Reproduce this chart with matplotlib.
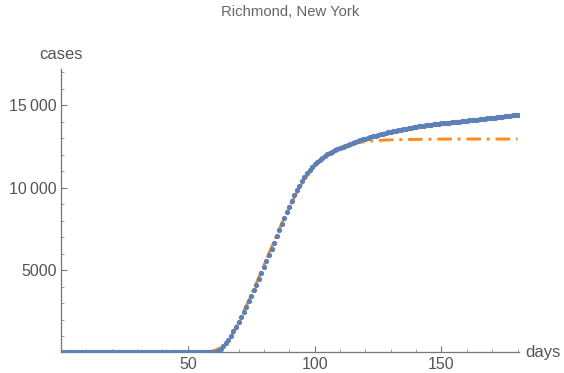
import numpy as np
import matplotlib.pyplot as plt
from matplotlib.ticker import MultipleLocator, FuncFormatter

plt.rcParams['font.family'] = ['Liberation Sans', 'DejaVu Sans']

# daily cumulative cases, day 1..180
days = list(range(1, 181))
cases = [0] * 58 + [
    2, 10, 40, 110, 220, 370, 560, 780, 1020, 1280,            # 59-68
    1560, 1850, 2150, 2460, 2780, 3100, 3430, 3770, 4110, 4460,  # 69-78
    4810, 5170, 5540, 5910, 6290, 6670, 7040, 7410, 7780, 8150,  # 79-88
    8500, 8850, 9200, 9530, 9840, 10130, 10400, 10650, 10880, 11080,  # 89-98
    11260, 11420, 11560, 11690, 11810, 11920, 12020, 12110, 12190, 12260,  # 99-108
    12330, 12400, 12470, 12540, 12600, 12660, 12720, 12780, 12830, 12880,  # 109-118
    12930, 12980, 13030, 13070, 13110, 13150, 13190, 13230, 13270, 13310,  # 119-128
    13350, 13390, 13430, 13460, 13490, 13520, 13550, 13580, 13610, 13640,  # 129-138
    13670, 13700, 13720, 13740, 13770, 13790, 13810, 13830, 13850, 13870,  # 139-148
    13890, 13910, 13920, 13940, 13950, 13970, 13980, 14000, 14010, 14030,  # 149-158
    14040, 14060, 14080, 14090, 14110, 14130, 14140, 14160, 14180, 14200,  # 159-168
    14210, 14230, 14250, 14270, 14290, 14300, 14320, 14340, 14360, 14380,  # 169-178
    14400, 14420,                                                # 179-180
]

# fitted curve
fit_days = [0, 50, 54, 56, 58, 60, 62, 64, 66, 68, 70, 72, 74, 76, 78, 80, 82, 84,
            86, 88, 90, 92, 94, 96, 98, 100, 102, 104, 106, 108, 110, 112, 114,
            116, 118, 120, 124, 128, 135, 145, 160, 180]
fit_cases = [0, 0, 5, 15, 40, 100, 220, 420, 740, 1220, 1820, 2470, 3140, 3840,
             4560, 5290, 6020, 6750, 7460, 8150, 8800, 9420, 9980, 10480, 10920,
             11300, 11620, 11890, 12110, 12290, 12430, 12540, 12630, 12700, 12750,
             12790, 12850, 12890, 12920, 12940, 12950, 12950]

blue = '#5E81B5'
orange = '#FF8C1A'
grey = '#555555'

fig = plt.figure(figsize=(5.64, 3.73), dpi=100)
ax = fig.add_axes([0.108, 0.055, 0.812, 0.760])

ax.plot(fit_days, fit_cases, color=orange, lw=2.1, ls=(0, (5, 2, 1, 2)), zorder=3)
ax.plot(days, cases, 'o', color=blue, ms=3.8, mec='none', zorder=4)

ax.set_xlim(0, 180.5)
ax.set_ylim(0, 17200)

for s in ['top', 'right']:
    ax.spines[s].set_visible(False)
for s in ['left', 'bottom']:
    ax.spines[s].set_color('#777777')
    ax.spines[s].set_linewidth(0.9)
    ax.spines[s].set_zorder(2)

ax.xaxis.set_major_locator(MultipleLocator(50))
ax.xaxis.set_minor_locator(MultipleLocator(10))
ax.yaxis.set_major_locator(MultipleLocator(5000))
ax.yaxis.set_minor_locator(MultipleLocator(1000))


def fmt(v, pos):
    if v == 0:
        return ''
    v = int(round(v))
    if v >= 10000:
        return '{:,}'.format(v).replace(',', '\u2009')
    return str(v)


ax.xaxis.set_major_formatter(FuncFormatter(fmt))
ax.yaxis.set_major_formatter(FuncFormatter(fmt))
ax.tick_params(which='major', direction='in', length=4.3, width=0.8,
               color='#777777', labelsize=11.5, labelcolor=grey, pad=3)
ax.tick_params(which='minor', direction='in', length=2.5, width=0.7,
               color='#999999')

ax.text(0, 1.025, 'cases', transform=ax.transAxes, ha='center', va='bottom',
        fontsize=12, color=grey)
ax.text(1.015, 0, 'days', transform=ax.transAxes, ha='left', va='center',
        fontsize=12, color=grey)
fig.text(0.514, 0.968, 'Richmond, New York', ha='center', va='center',
         fontsize=10.7, color='#666666')

fig.savefig('out.png', dpi=100)
